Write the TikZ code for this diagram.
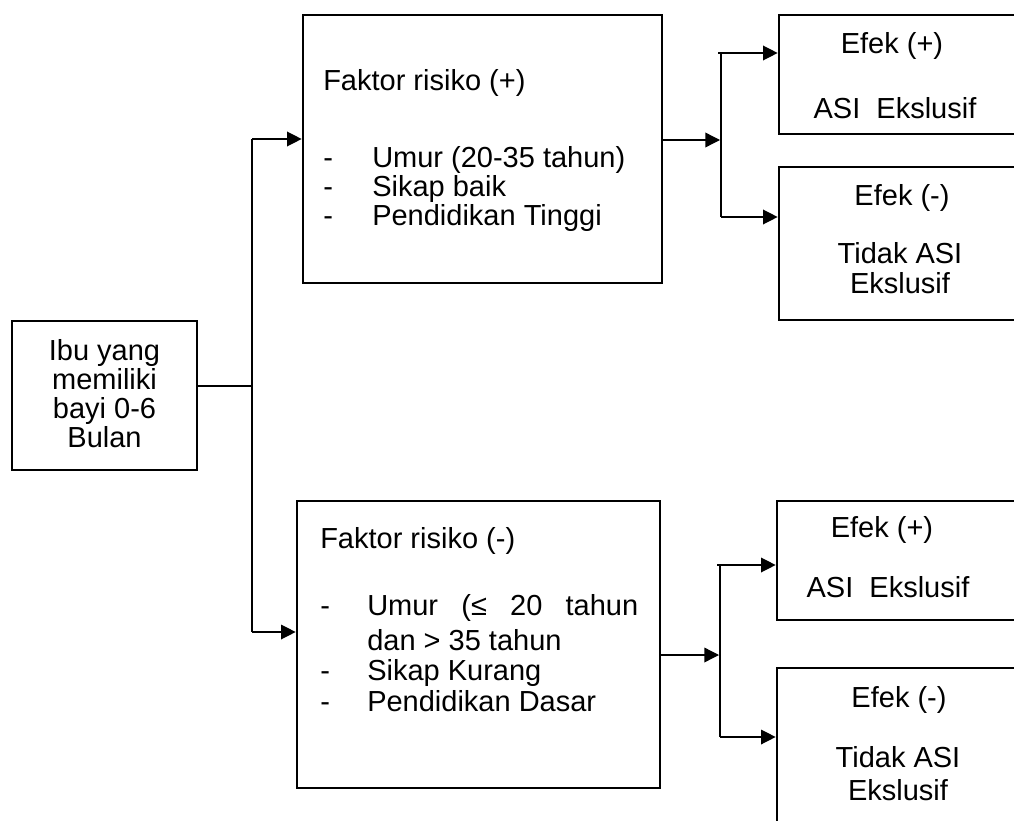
\documentclass[tikz,border=0pt]{standalone}
\usepackage{fontspec}
\setmainfont{Liberation Sans}
\usetikzlibrary{arrows.meta,fit}
\begin{document}
\begin{tikzpicture}[x=0.75pt,y=-0.75pt,
  box/.style={draw,line width=2pt,inner sep=0pt},
  conn/.style={line width=1pt},
  arr/.style={conn,-{Triangle[length=11pt,width=11pt]}},
  txt/.style={inner sep=0pt,font=\fontsize{21.75pt}{21.75pt}\selectfont},
  lt/.style={txt,anchor=base west},
  ct/.style={txt,anchor=base}]
\clip (0,0) rectangle (1014,821);
% boxes
\node[box,fit={(12,321)(197,470)}] (ibu) {};
\node[box,fit={(303,15)(662,283)}] (f1) {};
\node[box,fit={(297,501)(660,788)}] (f2) {};
\node[box,fit={(779,15)(1030,134)}] (eA) {};
\node[box,fit={(779,167)(1030,320)}] (eB) {};
\node[box,fit={(777,501)(1030,620)}] (eC) {};
\node[box,fit={(777,668)(1030,830)}] (eD) {};
% texts
\node[txt,align=center] (ibut) at (104.5,394) {Ibu yang\\memiliki\\bayi 0-6\\Bulan};
\node[lt] (f1h) at (323,90) {Faktor risiko (+)};
\node[lt] (f1d1) at (323,167) {-};
\node[lt] (f1d2) at (323,196) {-};
\node[lt] (f1d3) at (323,225) {-};
\node[lt] (f1i1) at (372,167) {Umur (20-35 tahun)};
\node[lt] (f1i2) at (372,196) {Sikap baik};
\node[lt] (f1i3) at (372,225) {Pendidikan Tinggi};
\node[lt] (f2h) at (320,548) {Faktor risiko (-)};
\node[lt] (f2d1) at (320,615) {-};
\node[lt] (f2d2) at (320,680) {-};
\node[lt] (f2d3) at (320,711) {-};
\node[lt] (f2i1) at (367,615) {\makebox[203.25pt][s]{Umur (≤ 20 tahun}};
\node[lt] (f2i1b) at (367,650) {dan > 35 tahun};
\node[lt] (f2i2) at (367,680) {Sikap Kurang};
\node[lt] (f2i3) at (367,711) {Pendidikan Dasar};
\node[ct] (eAt1) at (892,53) {Efek (+)};
\node[ct] (eAt2) at (895,118) {ASI\ \ Ekslusif};
\node[ct] (eBt1) at (902,205) {Efek (-)};
\node[ct] (eBt2) at (900,263) {Tidak ASI};
\node[ct] (eBt3) at (900,293) {Ekslusif};
\node[ct] (eCt1) at (882,537) {Efek (+)};
\node[ct] (eCt2) at (888,597) {ASI\ \ Ekslusif};
\node[ct] (eDt1) at (899,707) {Efek (-)};
\node[ct] (eDt2) at (898,767) {Tidak ASI};
\node[ct] (eDt3) at (898,800) {Ekslusif};
% junction coordinates
\coordinate (j0) at (252,386);
\coordinate (a1) at (252,139);
\coordinate (a2) at (252,632);
\coordinate (b0) at (720,140);
\coordinate (b1) at (718,53);
\coordinate (b1v) at (721,53);
\coordinate (b2) at (721,217);
\coordinate (c0) at (719,655);
\coordinate (c1) at (717,565);
\coordinate (c1v) at (720,565);
\coordinate (c2) at (720,737);
% connectors
\draw[conn] (ibu.east |- j0) -- (j0);
\draw[conn] (a1) -- (a2);
\draw[arr] (a1) -- (f1.west |- a1);
\draw[arr] (a2) -- (f2.west |- a2);
\draw[arr] (f1.east |- b0) -- (b0);
\draw[conn] (b1v) -- (b2);
\draw[arr] (b1) -- (eA.west |- b1);
\draw[arr] (b2) -- (eB.west |- b2);
\draw[arr] (f2.east |- c0) -- (c0);
\draw[conn] (c1v) -- (c2);
\draw[arr] (c1) -- (eC.west |- c1);
\draw[arr] (c2) -- (eD.west |- c2);
\end{tikzpicture}
\end{document}
